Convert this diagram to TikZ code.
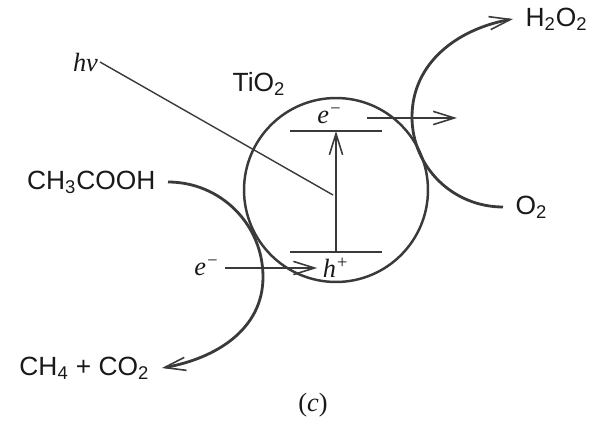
\documentclass[tikz,border=0pt]{standalone}
\usepackage{fontspec}
\setmainfont{Liberation Sans}
\newfontfamily\timesfont{Liberation Serif}
\usetikzlibrary{arrows.meta}
\definecolor{ink}{HTML}{3A3A3A}

\begin{document}
\begin{tikzpicture}[
  x=0.02cm, y=0.02cm,
  chem/.style={font=\fontsize{15}{18}\selectfont, text=black!90, inner xsep=7pt, inner ysep=1pt},
  sym/.style={font=\fontsize{15}{18}\selectfont\timesfont\itshape, text=black!90, inner sep=3pt},
  barb/.style={-{Straight Barb[length=12pt, width=7.5pt, line width=0.9pt]}},
  flow/.style={draw=ink, line width=1.6pt, barb},
  band/.style={draw=ink, line width=0.8pt}
]
\useasboundingbox (0,0) rectangle (599,423);

\node[draw=ink, line width=1.4pt, circle, minimum size=3.68cm] (tio) at (336,233) {};
\node[chem] (tiox) at (259,339) {TiO\textsubscript{2}};

\coordinate (cbl) at (290,292);
\coordinate (cbr) at (382,292);
\coordinate (vbl) at (290,171);
\coordinate (vbr) at (382,171);
\draw[band] (cbl) -- (cbr);
\draw[band] (vbl) -- (vbr);
\coordinate (vbm) at (336,171);
\coordinate (cbm) at (336,292);
\draw[band, barb] (vbm) -- (cbm);

\node[sym, anchor=east, inner sep=1pt] (hv) at (100,361) {hν};
\coordinate (hit) at (333,228);
\draw[band] (hv.east) -- (hit);

\node[sym] (etop) at (330,307) {e\textsuperscript{−}};
\coordinate (ein) at (367,305);
\coordinate (eout) at (457,305);
\draw[flow] (ein) -- (eout);

\node[sym] (eleft) at (207,155) {e\textsuperscript{−}};
\node[sym] (hplus) at (336,155) {h\textsuperscript{+}};
\draw[flow] (eleft) -- (hplus);

\node[chem, anchor=east] (acid) at (168,241) {CH\textsubscript{3}COOH};
\node[chem, anchor=east] (prod) at (162,55) {CH\textsubscript{4} + CO\textsubscript{2}};
\coordinate (lturn) at (263,146);
\draw[flow] (acid.east) to[out=0, in=90] (lturn) to[out=-90, in=10] (prod.east);

\node[chem, anchor=west] (oxy) at (503,216) {O\textsubscript{2}};
\node[chem, anchor=west] (pero) at (513,404) {H\textsubscript{2}O\textsubscript{2}};
\coordinate (rturn) at (412,306);
\draw[flow] (oxy.west) to[out=180, in=-90] (rturn) to[out=90, in=190] (pero.west);

\node[sym, font=\fontsize{15}{18}\selectfont\timesfont] (cap) at (313,18) {(\textit{c})};
\end{tikzpicture}
\end{document}
